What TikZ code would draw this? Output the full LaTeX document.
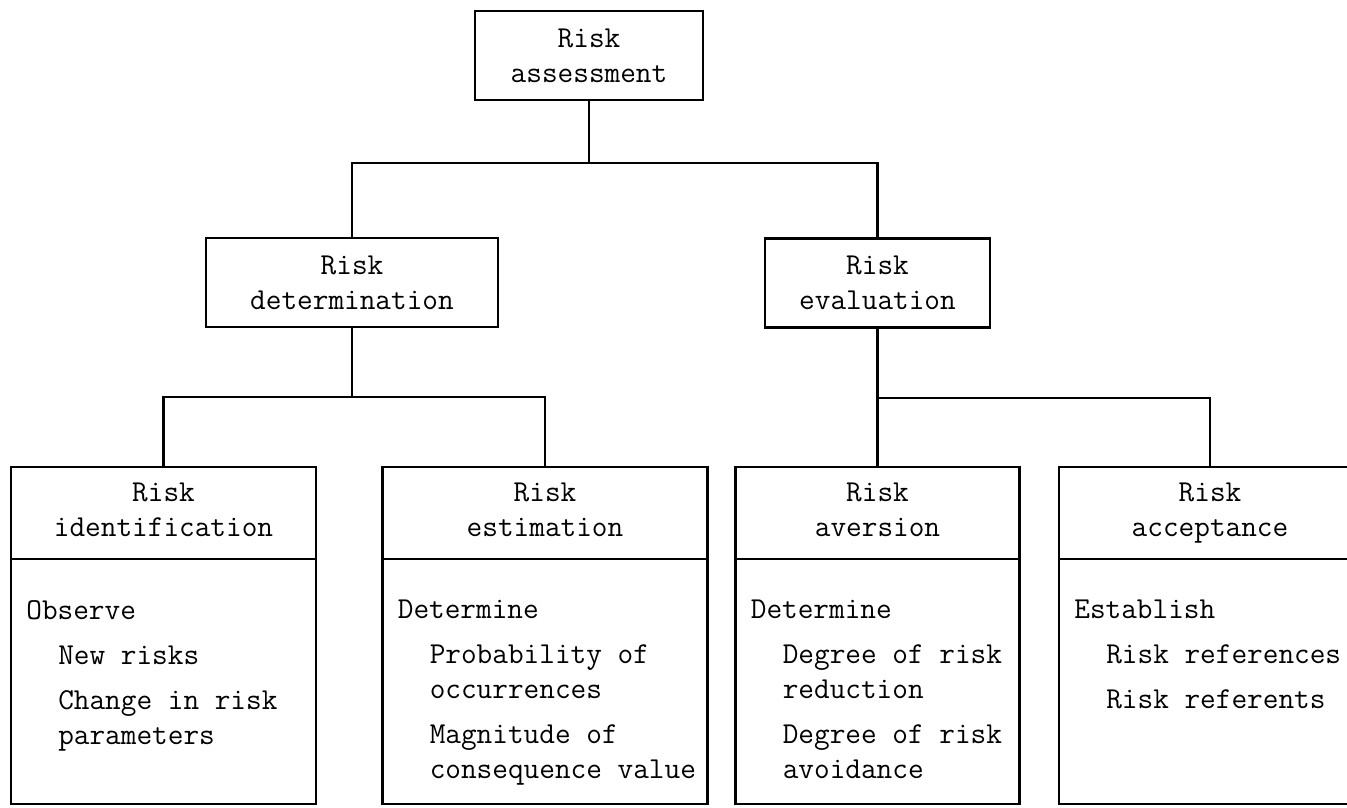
\documentclass[tikz,border=0pt]{standalone}
\usetikzlibrary{positioning,calc}
\newcommand{\boxfont}{\fontsize{17.3}{19.9}\selectfont\ttfamily}
\newcommand{\ind}{\hspace*{1.05em}}
\tikzset{font=\boxfont}
\tikzset{
	headbox/.style={draw, line width=1.2pt, inner sep=0pt, outer sep=0pt, align=center, minimum height=1.78cm},
	titlebox/.style={draw, line width=1.2pt, inner sep=0pt, outer sep=0pt, align=center, minimum height=1.84cm,
		execute at end node=\vphantom{p}},
	bodybox/.style={draw, line width=1.2pt, inner sep=0pt, outer sep=0pt, minimum height=4.9cm},
	bodytext/.style={align=left, inner sep=0pt},
	link/.style={line width=1.2pt},
}

\begin{document}
\begin{tikzpicture}
	\useasboundingbox (0,0) rectangle (26.94,-16.14);
	% upper levels
	\node[headbox, minimum width=4.56cm] (assess) at (11.78,-1.11) {Risk\\assessment};
	\node[headbox, minimum width=5.84cm] (determ) at (7.04,-5.65) {Risk\\determination};
	\node[headbox, minimum width=4.5cm] (eval) at (17.55,-5.66) {Risk\\evaluation};

	% lower level, title part
	\node[titlebox, minimum width=6.1cm] (identT) at (3.27,-10.26) {Risk\\identification};
	\node[titlebox, minimum width=6.5cm] (estimT) at (10.9,-10.26) {Risk\\estimation};
	\node[titlebox, minimum width=5.68cm] (aversT) at (17.55,-10.26) {Risk\\aversion};
	\node[titlebox, minimum width=6.04cm] (acceptT) at (24.2,-10.26) {Risk\\acceptance};

	% lower level, body part
	\node[bodybox, minimum width=6.1cm, below=0pt of identT] (identB) {};
	\node[bodybox, minimum width=6.5cm, below=0pt of estimT] (estimB) {};
	\node[bodybox, minimum width=5.68cm, below=0pt of aversT] (aversB) {};
	\node[bodybox, minimum width=6.04cm, below=0pt of acceptT] (acceptB) {};

	\node[bodytext, below right=0.82cm and 0.3cm of identB.north west] (identL)
		{Observe\\[0.2cm]\ind New risks\\[0.2cm]\ind Change in risk\\\ind parameters};
	\node[bodytext, below right=0.82cm and 0.3cm of estimB.north west] (estimL)
		{Determine\\[0.2cm]\ind Probability of\\\ind occurrences\\[0.2cm]\ind Magnitude of\\\ind consequence value};
	\node[bodytext, below right=0.82cm and 0.3cm of aversB.north west] (aversL)
		{Determine\\[0.2cm]\ind Degree of risk\\\ind reduction\\[0.2cm]\ind Degree of risk\\\ind avoidance};
	\node[bodytext, below right=0.82cm and 0.3cm of acceptB.north west] (acceptL)
		{Establish\\[0.2cm]\ind Risk references\\[0.2cm]\ind Risk referents};

	% connectors
	\coordinate (j1) at (11.78,-3.26);
	\coordinate (j2) at (7.04,-7.94);
	\coordinate (j3) at (17.55,-7.96);
	\draw[link] (assess) -- (j1);
	\draw[link] (determ) |- (j1) -| (eval);
	\draw[link] (determ) -- (j2);
	\draw[link] (identT) |- (j2) -| (estimT);
	\draw[link] (eval) -- (aversT);
	\draw[link] (j3) -| (acceptT);
\end{tikzpicture}
\end{document}
